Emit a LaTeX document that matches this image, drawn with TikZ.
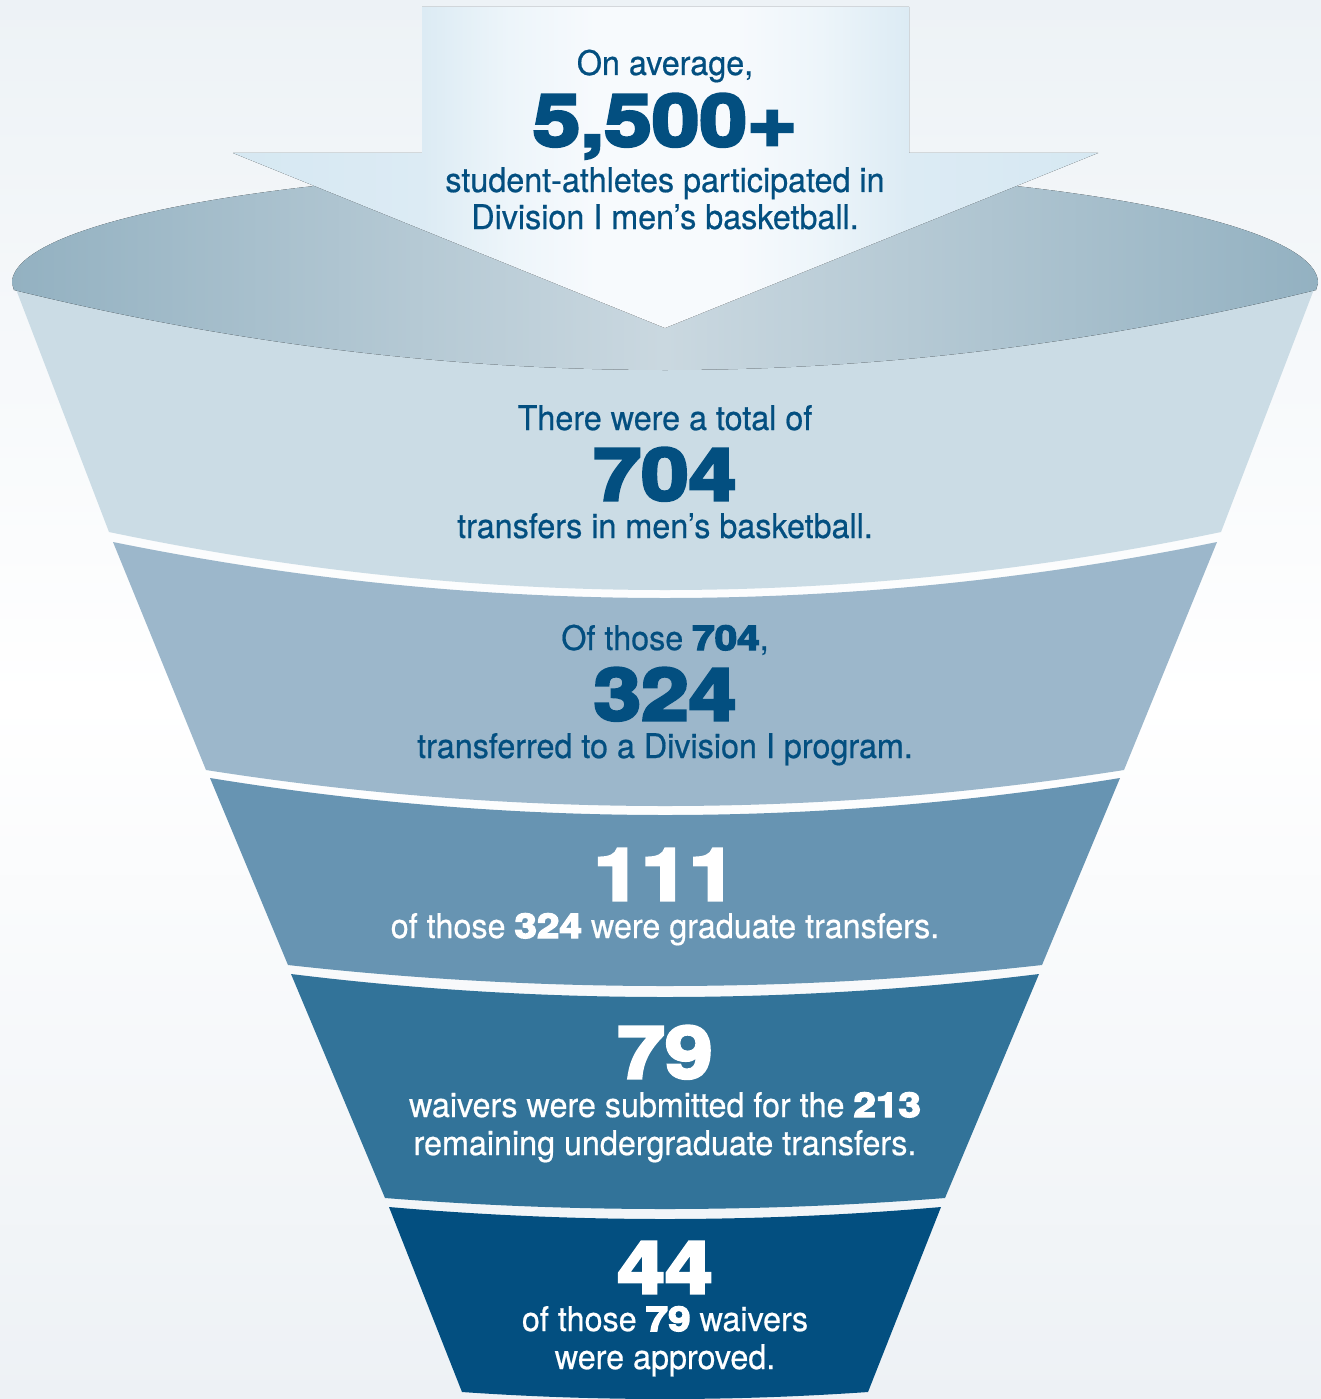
\documentclass[tikz,border=0pt]{standalone}
\usepackage{fontspec}
\setmainfont{TeX Gyre Heros}[FakeStretch=0.95, FakeBold=0.55]
\newfontfamily\numfont{texgyreheros-bold.otf}[FakeStretch=1.19, FakeBold=4.3]
\newcommand\bnum[1]{{\numfont #1}}
\definecolor{txtblue}{HTML}{034F80}
\definecolor{bandA}{HTML}{CBDCE5}
\definecolor{bandB}{HTML}{9CB7CB}
\definecolor{bandC}{HTML}{6794B2}
\definecolor{bandD}{HTML}{327399}
\definecolor{bandE}{HTML}{034F80}
\definecolor{rimedge}{HTML}{93B1C1}
\definecolor{rimmid}{HTML}{CAD8E0}
\definecolor{bgtop}{HTML}{EDF2F6}
\definecolor{bgbot}{HTML}{EDF1F5}
\definecolor{arrE}{HTML}{D6E8F2}
\definecolor{arrM}{HTML}{DCEBF4}
\definecolor{arrL}{HTML}{EDF5FA}
\definecolor{arrC}{HTML}{F7FAFD}
\pgfdeclarehorizontalshading{arrowshade}{100bp}{color(0bp)=(arrE); color(25bp)=(arrE); color(36bp)=(arrM); color(41bp)=(arrL); color(46bp)=(arrC); color(54bp)=(arrC); color(59bp)=(arrL); color(64bp)=(arrM); color(75bp)=(arrE); color(100bp)=(arrE)}
% band: color, top-left x, top y, top sag, bottom-left x, bottom y, bottom sag
\newcommand\funnelband[7]{%
  \fill[#1] (#2,#3) .. controls ({(#2+1330)/3},{#3+4*#4/3}) and ({(2660-#2)/3},{#3+4*#4/3}) .. ({1330-#2},#3)
    -- ({1330-#5},#6) .. controls ({(2660-#5)/3},{#6+4*#7/3}) and ({(#5+1330)/3},{#6+4*#7/3}) .. (#5,#6) -- cycle;}
\tikzset{
  txt/.style={anchor=base, inner sep=0pt, text=txtblue, font=\fontsize{34}{40}\selectfont},
  wtxt/.style={txt, text=white},
  big/.style={anchor=base, inner sep=0pt, text=txtblue, font=\numfont\fontsize{72}{72}\selectfont},
  wbig/.style={big, text=white}
}
\begin{document}
\begin{tikzpicture}[x=1pt, y=-1pt]
\useasboundingbox (0,0) rectangle (1321,1399);
% background
\fill[top color=bgtop, bottom color=bgbot, middle color=white] (0,0) rectangle (1321,1399);
% funnel bands
\funnelband{bandA}{14}{284}{0}{109}{532}{58}
\funnelband{bandB}{113}{542}{56}{206}{770}{36}
\funnelband{bandC}{210}{778}{37}{288}{965}{21}
\funnelband{bandD}{291}{974}{23}{385}{1198}{11}
\funnelband{bandE}{389}{1207}{12}{462}{1392}{7}
% rim
\fill[left color=rimedge, right color=rimedge, middle color=rimmid]
  plot[domain=180:0, samples=120] ({665+653*cos(\x)},{283-115*sin(\x)})
  -- (1316,290) .. controls ({(2660-14)/3},{290+4*80/3}) and ({(14+1330)/3},{290+4*80/3}) .. (14,290) -- cycle;
% arrow
\fill[shading=arrowshade] (422,7) -- (909,7) -- (909,153) -- (1098,153) -- (665,328) -- (233,153) -- (422,153) -- cycle;
% texts
\node[txt] (t1) at (665,75) {On average,};
\node[big] (n1) at (665,146) {5,500+};
\node[txt] (t2) at (665,192) {student-athletes participated in};
\node[txt] (t3) at (665,229) {Division I men’s basketball.};
\node[txt] (a1) at (665,430) {There were a total of};
\node[big] (a2) at (665,500) {704};
\node[txt] (a3) at (665,538) {transfers in men’s basketball.};
\node[txt] (b1) at (665,650) {Of those \bnum{704},};
\node[big] (b2) at (665,720) {324};
\node[txt] (b3) at (665,758) {transferred to a Division I program.};
\node[wbig] (c1) at (665,900) {111};
\node[wtxt] (c2) at (665,938) {of those \bnum{324} were graduate transfers.};
\node[wbig] (d1) at (665,1078) {79};
\node[wtxt] (d2) at (665,1117) {waivers were submitted for the \bnum{213}};
\node[wtxt] (d3) at (665,1155) {remaining undergraduate transfers.};
\node[wbig] (e1) at (665,1293) {44};
\node[wtxt] (e2) at (665,1331) {of those \bnum{79} waivers};
\node[wtxt] (e3) at (665,1369) {were approved.};
\end{tikzpicture}
\end{document}
